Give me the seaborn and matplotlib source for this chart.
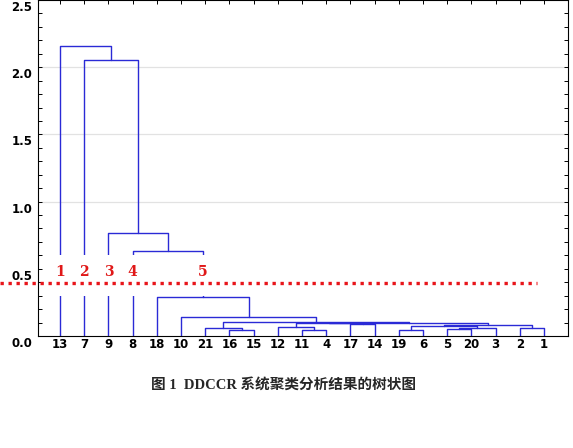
import matplotlib
matplotlib.use("Agg")
import matplotlib.pyplot as plt
import matplotlib.transforms as mtransforms
from matplotlib.patches import Rectangle
from matplotlib.ticker import MultipleLocator, FixedLocator
import pandas as pd
import seaborn as sns

# ---------------- data ----------------
# agglomerative merges: node "m<k>" is created by row k-1 (1-based)
merge_left = [16, 21, 11, 12, 17, "m4", 19, 5, "m8", "m7", 2, "m10", "m6", "m2",
              10, 18, 8, 9, 7, 13]
merge_right = [15, "m1", 4, "m3", 14, "m5", 6, 20, 3, "m9", 1, "m11", "m12", "m13",
               "m14", "m15", "m16", "m17", "m18", "m19"]
merge_height = [0.045, 0.06, 0.045, 0.07, 0.09, 0.095, 0.045, 0.05, 0.06, 0.075,
                0.06, 0.085, 0.10, 0.105, 0.14, 0.29, 0.63, 0.77, 2.05, 2.16]

cut_height = 0.395
cluster_names = ["1", "2", "3", "4", "5"]
cluster_nodes = [13, 7, 9, 8, "m16"]
cluster_label_height = 0.475

y_ticks = [0.0, 0.5, 1.0, 1.5, 2.0, 2.5]
caption = "图 1  DDCCR 系统聚类分析结果的树状图"

# ---------------- build dendrogram geometry ----------------
nodes = {f"m{i+1}": (l, r, h) for i, (l, r, h) in
         enumerate(zip(merge_left, merge_right, merge_height))}
root = f"m{len(merge_left)}"

leaf_order = []
def collect(n):
    if n in nodes:
        collect(nodes[n][0]); collect(nodes[n][1])
    else:
        leaf_order.append(n)
collect(root)
leaf_pos = {lab: i for i, lab in enumerate(leaf_order)}

pos, hgt = {}, {}
def place(n):
    if n in pos:
        return
    if n in nodes:
        l, r, h = nodes[n]
        place(l); place(r)
        pos[n] = (pos[l] + pos[r]) / 2
        hgt[n] = h
    else:
        pos[n] = leaf_pos[n]
        hgt[n] = 0.0
place(root)

rows = []
for name, (l, r, h) in nodes.items():
    xs = [pos[l], pos[l], pos[r], pos[r]]
    ys = [hgt[l], h, h, hgt[r]]
    for k, (x, y) in enumerate(zip(xs, ys)):
        rows.append({"seg": name, "order": k, "x": x, "y": y})
seg_df = pd.DataFrame(rows)

# ---------------- plot ----------------
sns.set_theme(style="white")
plt.rcParams["font.family"] = ["DejaVu Sans"]

fig = plt.figure(figsize=(5.73, 4.48), dpi=100)
ax = fig.add_axes([38 / 573, 1 - 336 / 448, 530 / 573, 336 / 448])

blue = "#2a2ad6"
sns.lineplot(data=seg_df, x="x", y="y", units="seg", estimator=None, sort=False,
             color=blue, linewidth=1.0, ax=ax, zorder=2, legend=False)

ax.set_xlim(-0.91, 20.99)
ax.set_ylim(0, 2.5)

# faint horizontal grid
for g in [1.0, 1.5, 2.0]:
    ax.axhline(g, color="#e2e2e2", lw=0.9, zorder=0)

# white gap around cluster labels
ax.add_patch(Rectangle((-0.6, 0.298), pos["m16"] + 0.7, 0.60 - 0.298,
                       facecolor="white", edgecolor="none", zorder=3))

# cut line
ax.plot([-2.5, 19.7], [cut_height, cut_height], color="#e8141a", lw=2.4,
        linestyle=(0, (1, 1.4)), clip_on=False, zorder=4)

for name, node in zip(cluster_names, cluster_nodes):
    ax.text(pos[node], cluster_label_height, name, color="#e01818",
            ha="center", va="center", fontsize=10, fontweight="bold",
            family=["DejaVu Serif"], zorder=5)

# ticks
ax.set_xticks(range(len(leaf_order)))
ax.set_xticklabels([str(v) for v in leaf_order], fontsize=8.5, fontweight="bold")
ax.yaxis.set_major_locator(FixedLocator(y_ticks))
ax.set_yticklabels([f"{v:.1f}" for v in y_ticks], fontsize=8.5, fontweight="bold")
ax.yaxis.set_minor_locator(MultipleLocator(0.1))
ax.tick_params(axis="both", which="both", direction="in", length=2.6, width=0.7,
               colors="black", top=True, right=True, bottom=True, left=True)
ax.tick_params(axis="x", pad=1.5)
ax.tick_params(axis="y", pad=4)
ax.set_xlabel("")
ax.set_ylabel("")
for lab in ax.get_yticklabels():
    lab.set_transform(lab.get_transform() +
                      mtransforms.ScaledTranslation(0, -0.06, fig.dpi_scale_trans))
for s in ax.spines.values():
    s.set_color("black")
    s.set_linewidth(0.8)

fig.text(0.494, 1 - 385 / 448, caption, ha="center", va="center", fontsize=10.5,
         fontweight="bold", family=["Liberation Serif", "Noto Sans CJK SC"])

fig.savefig("out.png", dpi=100)
